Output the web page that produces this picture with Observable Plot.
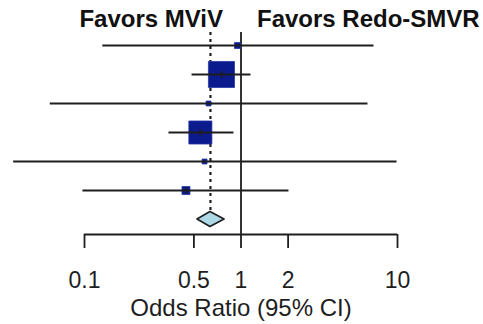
<!DOCTYPE html>
<html><head><meta charset="utf-8">
<script src="https://cdn.jsdelivr.net/npm/d3@7"></script>
<script src="https://cdn.jsdelivr.net/npm/@observablehq/plot@0.6"></script>
<style>body{margin:0;background:#fff}</style>
</head><body><div id="chart"></div>
<script>
const studies = ["Study 1", "Study 2", "Study 3", "Study 4", "Study 5", "Study 6"];
const oddsRatio = [0.95, 0.75, 0.62, 0.55, 0.585, 0.445];
const ciLower = [0.13, 0.483, 0.06, 0.344, 0.035, 0.097];
const ciUpper = [7.03, 1.15, 6.43, 0.895, 9.86, 2.01];
const weights = [2.7, 49.9, 1.8, 39.0, 1.8, 4.7];
const pooledOR = 0.638, pooledLower = 0.527, pooledUpper = 0.785;
const xTicks = [0.1, 0.5, 1, 2, 10];
const leftLabel = "Favors MViV", rightLabel = "Favors Redo-SMVR";
const axisLabel = "Odds Ratio (95% CI)";

const table = studies.map((s, i) => ({study: s, row: i + 1, or: oddsRatio[i], lo: ciLower[i], hi: ciUpper[i], w: weights[i]}));
const pooledRow = studies.length + 1;
const dh = 0.26;
const diamond = [
  {y: pooledRow - dh, x1: pooledOR, x2: pooledOR},
  {y: pooledRow, x1: pooledLower, x2: pooledUpper},
  {y: pooledRow + dh, x1: pooledOR, x2: pooledOR}
];
const yTop = 0.552, yBottom = pooledRow + 0.517;
const ink = "#1e1e1e";
const font = "Liberation Sans, Arial, Helvetica, sans-serif";

const chart = Plot.plot({
  width: 483, height: 324,
  marginTop: 32, marginBottom: 90, marginLeft: 84, marginRight: 86,
  style: {fontFamily: font, background: "#fff", overflow: "visible"},
  x: {type: "log", domain: [xTicks[0], xTicks[xTicks.length - 1]], axis: null},
  y: {domain: [yTop, yBottom], reverse: true, axis: null},
  r: {type: "sqrt", domain: [0, d3.max(weights)], range: [0, 14.7]},
  marks: [
    Plot.ruleX([1], {stroke: ink, strokeWidth: 1.8}),
    Plot.ruleX([pooledOR], {y1: yTop, y2: pooledRow - dh, stroke: ink, strokeWidth: 2.2, strokeDasharray: "3,4"}),
    Plot.dot(table, {x: "or", y: "row", r: "w", symbol: "square", fill: "#0b1a8c", stroke: "#2436a6", strokeWidth: 0.8}),
    Plot.link(table, {x1: "lo", x2: "hi", y1: "row", y2: "row", stroke: ink, strokeWidth: 1.8}),
    Plot.link(table.filter(d => d.w > 4), {x1: "or", x2: "or", y1: d => d.row - 0.12, y2: d => d.row + 0.12, stroke: ink, strokeWidth: 1.4}),
    Plot.areaX(diamond, {y: "y", x1: "x1", x2: "x2", fill: "#add8e6", stroke: ink, strokeWidth: 1.6}),
    Plot.ruleY([yBottom], {x1: xTicks[0], x2: xTicks[xTicks.length - 1], stroke: ink, strokeWidth: 1.8}),
    Plot.axisX({ticks: xTicks, tickFormat: d => String(d), tickSize: 14, tickPadding: 23, fontSize: 23, stroke: ink, strokeWidth: 1.8, fill: ink, label: null}),
    Plot.text([axisLabel], {x: 1, frameAnchor: "bottom", dy: 81, lineAnchor: "bottom", textAnchor: "middle", fontSize: 24, fill: ink}),
    Plot.text([leftLabel], {x: 1, frameAnchor: "top", dx: -18, dy: -6, lineAnchor: "bottom", textAnchor: "end", fontSize: 24, fontWeight: "bold", fill: "#111"}),
    Plot.text([rightLabel], {x: 1, frameAnchor: "top", dx: 16, dy: -6, lineAnchor: "bottom", textAnchor: "start", fontSize: 24, fontWeight: "bold", fill: "#111"})
  ]
});
document.getElementById("chart").appendChild(chart);
</script>
</body></html>
